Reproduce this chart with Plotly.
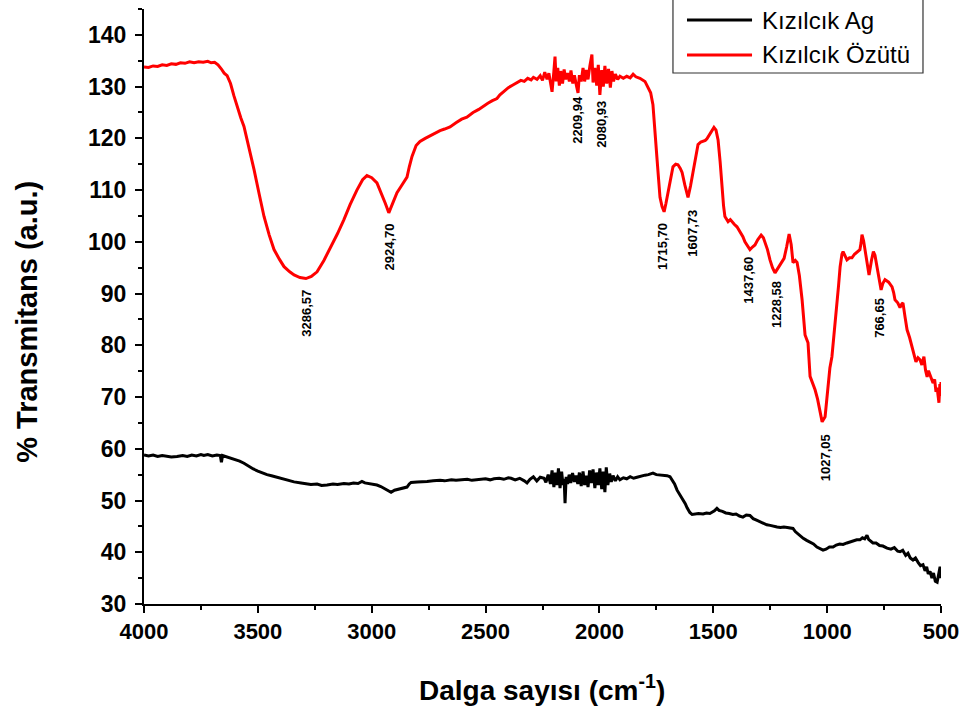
import plotly.graph_objects as go

# ---------------- data ----------------
wn_ozutu = [4000, 3980, 3960, 3940, 3920, 3900, 3880, 3860, 3840, 3820, 3800, 3780, 3760, 3740, 3720, 3705,
            3690, 3675, 3660, 3648, 3635, 3620, 3605, 3590, 3575, 3561, 3540, 3517, 3495, 3473, 3450, 3429,
            3405, 3385, 3360, 3341, 3315, 3289, 3265, 3240, 3210, 3179, 3150, 3122, 3095, 3065, 3040, 3021,
            3000, 2977, 2955, 2940, 2925, 2910, 2889, 2870, 2858, 2845, 2835, 2823, 2805, 2788, 2765, 2744,
            2720, 2700, 2680, 2656, 2630, 2605, 2582, 2555, 2530, 2511, 2490, 2470, 2450, 2437, 2420, 2400,
            2380, 2362, 2345, 2330, 2315, 2300, 2290, 2274, 2260, 2250, 2240, 2230, 2222, 2215, 2208, 2200,
            2195, 2190, 2183, 2176, 2170, 2162, 2155, 2148, 2140, 2132, 2125, 2117, 2110, 2100, 2094, 2088,
            2080, 2072, 2065, 2058, 2050, 2042, 2033, 2028, 2020, 2012, 2005, 1998, 1990, 1983, 1976, 1968,
            1960, 1952, 1945, 1938, 1930, 1920, 1910, 1895, 1880, 1865, 1852, 1840, 1822, 1800, 1787, 1775,
            1765, 1755, 1747, 1740, 1734, 1725, 1716, 1708, 1699, 1688, 1677, 1665, 1655, 1645, 1637, 1625,
            1611, 1600, 1589, 1578, 1567, 1555, 1545, 1535, 1528, 1515, 1505, 1497, 1488, 1479, 1470, 1462,
            1455, 1449, 1440, 1435, 1425, 1418, 1408, 1396, 1383, 1370, 1361, 1350, 1339, 1328, 1317, 1305,
            1290, 1280, 1273, 1262, 1251, 1240, 1229, 1218, 1207, 1198, 1189, 1178, 1167, 1158, 1150, 1140,
            1132, 1122, 1110, 1097, 1084, 1075, 1064, 1053, 1042, 1031, 1022, 1009, 1002, 996, 988, 979,
            968, 957, 950, 943, 935, 930, 922, 913, 902, 891, 880, 869, 856, 851, 847, 840,
            833, 825, 816, 805, 797, 790, 781, 772, 763, 755, 746, 730, 715, 708, 702, 690,
            680, 672, 667, 658, 649, 638, 627, 618, 610, 601, 592, 584, 575, 568, 561, 555,
            548, 541, 535, 528, 522, 517, 513, 509, 505, 502, 500]
t_ozutu = [133.8, 133.7, 134.0, 133.9, 134.2, 134.1, 134.4, 134.3, 134.6, 134.5, 134.8, 134.6, 134.8, 134.7, 134.9, 134.6,
           134.7, 134.2, 133.4, 132.6, 132.1, 130.6, 128.2, 126.0, 124.0, 122.3, 118.5, 114.0, 109.4, 104.9, 101.3, 98.5,
           96.6, 95.2, 94.2, 93.6, 93.1, 92.9, 93.3, 94.2, 96.4, 99.0, 101.6, 104.3, 107.2, 110.0, 112.0, 112.8,
           112.4, 111.4, 109.2, 107.4, 105.6, 107.4, 109.5, 110.8, 111.6, 112.5, 114.5, 116.5, 118.6, 119.4, 120.0, 120.5,
           121.0, 121.5, 121.8, 122.2, 123.0, 123.7, 124.1, 125.0, 125.6, 126.2, 126.8, 127.3, 127.7, 128.4, 129.0, 129.8,
           130.3, 130.8, 131.2, 131.0, 131.6, 131.3, 131.8, 131.4, 132.1, 131.2, 132.8, 131.4, 132.6, 130.8, 129.0, 133.0,
           135.8, 131.0, 133.6, 130.2, 133.0, 130.6, 133.3, 131.4, 132.6, 131.0, 133.1, 130.6, 132.2, 130.0, 128.8, 132.2,
           131.0, 133.6, 131.0, 133.2, 131.4, 134.0, 136.2, 130.8, 133.6, 130.2, 134.2, 128.4, 133.2, 130.0, 134.0, 130.6,
           133.4, 129.8, 133.0, 131.0, 132.4, 131.4, 132.0, 131.6, 132.0, 131.7, 132.4, 131.9, 131.6, 131.0, 130.0, 128.8,
           126.5, 121.5, 116.0, 112.0, 108.6, 106.8, 105.8, 107.4, 109.6, 112.2, 114.5, 115.0, 114.9, 114.2, 113.4, 111.0,
           108.6, 110.8, 113.4, 116.5, 118.8, 119.3, 119.4, 119.6, 119.9, 120.8, 121.4, 122.1, 121.6, 119.7, 115.5, 110.7,
           107.0, 104.9, 104.2, 103.9, 104.3, 103.9, 103.4, 102.9, 102.0, 101.0, 100.0, 99.2, 98.5, 99.0, 99.4, 100.4,
           101.3, 100.8, 100.0, 98.5, 96.5, 95.0, 94.0, 94.8, 95.4, 96.2, 96.8, 99.0, 101.5, 99.5, 96.0, 96.4,
           96.0, 93.5, 88.8, 82.0, 80.5, 74.0, 72.8, 71.4, 69.6, 67.5, 65.2, 66.2, 69.5, 73.3, 75.6, 77.8,
           82.5, 87.4, 91.5, 95.2, 97.6, 98.1, 97.2, 96.5, 96.9, 96.9, 97.6, 98.1, 98.5, 99.8, 101.4, 100.2,
           98.0, 95.5, 93.6, 96.5, 98.1, 97.4, 95.2, 92.5, 90.7, 92.0, 92.7, 92.2, 91.3, 90.2, 88.8, 88.2,
           87.3, 88.0, 88.2, 85.5, 83.0, 81.5, 79.7, 78.4, 76.8, 77.6, 77.2, 76.2, 77.8, 75.2, 73.9, 75.1,
           74.3, 73.6, 72.7, 73.4, 71.0, 71.8, 70.0, 68.9, 72.5, 70.2, 72.9]

wn_ag = [4000, 3980, 3960, 3940, 3920, 3900, 3880, 3855, 3830, 3810, 3790, 3770, 3750, 3737, 3720, 3700,
         3680, 3665, 3660, 3655, 3640, 3618, 3600, 3580, 3561, 3540, 3520, 3500, 3486, 3460, 3440, 3416,
         3390, 3365, 3341, 3310, 3290, 3267, 3240, 3220, 3196, 3170, 3150, 3122, 3100, 3080, 3060, 3043,
         3030, 3010, 2990, 2977, 2960, 2945, 2930, 2915, 2900, 2880, 2860, 2845, 2835, 2827, 2800, 2780,
         2757, 2730, 2700, 2680, 2650, 2630, 2608, 2580, 2560, 2530, 2500, 2480, 2463, 2440, 2420, 2400,
         2388, 2370, 2350, 2330, 2318, 2305, 2290, 2275, 2260, 2243, 2235, 2225, 2215, 2208, 2200, 2193,
         2186, 2180, 2173, 2166, 2160, 2155, 2151, 2146, 2140, 2133, 2126, 2118, 2110, 2103, 2095, 2088,
         2080, 2072, 2065, 2058, 2050, 2043, 2036, 2028, 2020, 2013, 2005, 1998, 1990, 1983, 1976, 1970,
         1963, 1955, 1948, 1940, 1930, 1920, 1910, 1895, 1880, 1865, 1850, 1835, 1820, 1800, 1785, 1765,
         1750, 1730, 1715, 1703, 1690, 1681, 1670, 1659, 1646, 1633, 1623, 1615, 1603, 1593, 1580, 1565,
         1545, 1530, 1515, 1506, 1495, 1484, 1475, 1460, 1445, 1430, 1414, 1400, 1385, 1370, 1355, 1339,
         1325, 1310, 1295, 1280, 1265, 1250, 1235, 1220, 1205, 1190, 1175, 1160, 1150, 1140, 1130, 1119,
         1105, 1090, 1075, 1060, 1045, 1030, 1018, 1005, 990, 974, 960, 945, 930, 913, 900, 885,
         870, 856, 845, 835, 825, 818, 810, 799, 785, 770, 755, 737, 720, 705, 690, 680,
         668, 655, 645, 635, 623, 612, 600, 590, 579, 570, 563, 556, 548, 540, 533, 525,
         517, 510, 504, 500]
t_ag = [58.8, 58.6, 58.8, 58.5, 58.7, 58.6, 58.4, 58.5, 58.7, 58.5, 58.8, 58.6, 58.9, 58.7, 58.9, 58.6,
        58.8, 58.7, 57.4, 58.7, 58.5, 58.1, 57.9, 57.6, 57.2, 56.6, 56.1, 55.7, 55.4, 55.0, 54.8, 54.5,
        54.1, 53.8, 53.6, 53.4, 53.3, 53.1, 53.2, 52.9, 53.0, 53.2, 53.1, 53.3, 53.2, 53.4, 53.3, 53.7,
        53.4, 53.3, 53.2, 53.0, 52.7, 52.3, 51.9, 51.6, 52.0, 52.2, 52.4, 52.6, 53.2, 53.5, 53.6, 53.7,
        53.7, 53.8, 53.9, 53.8, 54.0, 53.9, 54.0, 54.1, 53.9, 54.1, 54.2, 54.0, 54.2, 54.3, 54.1, 54.4,
        54.3, 54.0, 54.3, 53.8, 53.4, 54.1, 54.6, 53.8, 54.5, 54.3, 53.5, 55.0, 53.2, 55.8, 52.6, 55.4,
        53.0, 56.2, 52.4, 55.6, 53.0, 54.2, 49.5, 54.6, 53.2, 55.0, 53.4, 55.3, 53.6, 54.8, 53.2, 55.4,
        52.8, 55.6, 53.0, 54.8, 52.6, 55.8, 53.4, 56.0, 52.4, 55.4, 53.0, 56.2, 52.2, 55.6, 51.6, 56.4,
        53.0, 55.2, 53.6, 54.8, 53.8, 54.6, 54.0, 54.4, 54.2, 54.6, 54.3, 54.5, 54.7, 54.9, 55.0, 55.3,
        55.0, 54.9, 54.9, 54.8, 54.6, 54.0, 53.2, 52.0, 51.1, 50.2, 49.4, 48.6, 47.7, 47.3, 47.4, 47.5,
        47.4, 47.6, 47.5, 47.7, 48.0, 48.5, 48.1, 47.9, 47.6, 47.5, 47.3, 47.4, 47.0, 46.8, 47.2, 47.1,
        46.5, 46.2, 45.9, 45.6, 45.3, 45.2, 45.0, 44.9, 44.8, 44.9, 44.8, 44.7, 44.6, 44.0, 43.6, 43.3,
        42.7, 42.3, 42.0, 41.6, 41.0, 40.6, 40.4, 40.6, 41.0, 41.0, 41.4, 41.6, 41.5, 41.8, 42.0, 42.1,
        42.4, 42.4, 42.8, 42.6, 43.3, 42.5, 42.2, 41.8, 41.8, 41.3, 41.2, 40.8, 40.6, 40.9, 40.2, 40.1,
        40.4, 39.4, 39.8, 38.9, 38.5, 38.9, 38.0, 37.4, 37.6, 36.4, 37.2, 35.8, 36.3, 35.0, 36.0, 34.4,
        34.2, 35.6, 37.2, 35.0]

series_names = ["Kızılcık Ag", "Kızılcık Özütü"]
series_colors = ["#000000", "#ff0000"]

peak_labels = ["3286,57", "2924,70", "2209,94", "2080,93", "1715,70", "1607,73",
               "1437,60", "1228,58", "1027,05", "766,65"]
# where each (rotated) label is centred on the chart, in axis units
label_x = [3284, 2920, 2094, 1989, 1721, 1593, 1347, 1220, 1009, 768]
label_y = [86.1, 99.1, 123.6, 122.8, 99.2, 101.6, 92.5, 87.8, 58.2, 85.3]

x_ticks = [4000, 3500, 3000, 2500, 2000, 1500, 1000, 500]
y_ticks = [30, 40, 50, 60, 70, 80, 90, 100, 110, 120, 130, 140]

FONT = "Arial, 'Liberation Sans', sans-serif"

fig = go.Figure()
fig.add_trace(go.Scatter(x=wn_ag, y=t_ag, mode="lines", name=series_names[0],
                         line=dict(color=series_colors[0], width=3), showlegend=False))
fig.add_trace(go.Scatter(x=wn_ozutu, y=t_ozutu, mode="lines", name=series_names[1],
                         line=dict(color=series_colors[1], width=3), showlegend=False))

for lab, lx, ly in zip(peak_labels, label_x, label_y):
    fig.add_annotation(x=lx, y=ly, text=lab, textangle=-90, showarrow=False,
                       xanchor="center", yanchor="middle",
                       font=dict(family=FONT, size=13, color="black", weight="bold"))

# axis titles
fig.add_annotation(xref="paper", yref="paper", x=-0.147, y=0.474, text="% Transmitans (a.u.)",
                   textangle=-90, showarrow=False, xanchor="center", yanchor="middle",
                   font=dict(family=FONT, size=29, color="black", weight="bold"))
fig.add_annotation(xref="paper", yref="paper", x=0.4995, y=-0.141, text="Dalga sayısı (cm<sup>-1</sup>)",
                   showarrow=False, xanchor="center", yanchor="middle",
                   font=dict(family=FONT, size=28, color="black", weight="bold"))

# legend box drawn to match the reference
lx0, lx1, ly0, ly1 = 0.6637, 0.9774, 0.8924, 1.03
fig.add_shape(type="rect", xref="paper", yref="paper", x0=lx0, x1=lx1, y0=ly0, y1=ly1,
              line=dict(color="#333333", width=1.2), fillcolor="white", layer="above")
rows_y = [0.9815, 0.9227]
for name, col, ry in zip(series_names, series_colors, rows_y):
    fig.add_shape(type="line", xref="paper", yref="paper", x0=0.6813, x1=0.7629, y0=ry, y1=ry,
                  line=dict(color=col, width=3), layer="above")
    fig.add_annotation(xref="paper", yref="paper", x=0.7729, y=ry, text=name, showarrow=False,
                       xanchor="left", yanchor="middle",
                       font=dict(family=FONT, size=24, color="black"))

axis_common = dict(showgrid=False, zeroline=False, showline=True, linecolor="black", linewidth=2,
                   ticks="outside", ticklen=7, tickwidth=2, tickcolor="black")
fig.update_xaxes(range=[4000, 500], tickmode="array", tickvals=x_ticks,
                 tickfont=dict(family=FONT, size=22, color="black", weight="bold"),
                 minor=dict(ticks="outside", ticklen=4, tickwidth=2, tickcolor="black", dtick=250, tick0=500),
                 **axis_common)
fig.update_yaxes(range=[30, 145], tickmode="array", tickvals=y_ticks, ticklabelstandoff=4,
                 tickfont=dict(family=FONT, size=23, color="black", weight="bold"),
                 minor=dict(ticks="outside", ticklen=4, tickwidth=2, tickcolor="black", dtick=5, tick0=30),
                 **axis_common)

fig.update_layout(width=967, height=710, margin=dict(l=144, r=26, t=9, b=106, autoexpand=False),
                  plot_bgcolor="white", paper_bgcolor="white", showlegend=False)

fig.write_html("out.html")
